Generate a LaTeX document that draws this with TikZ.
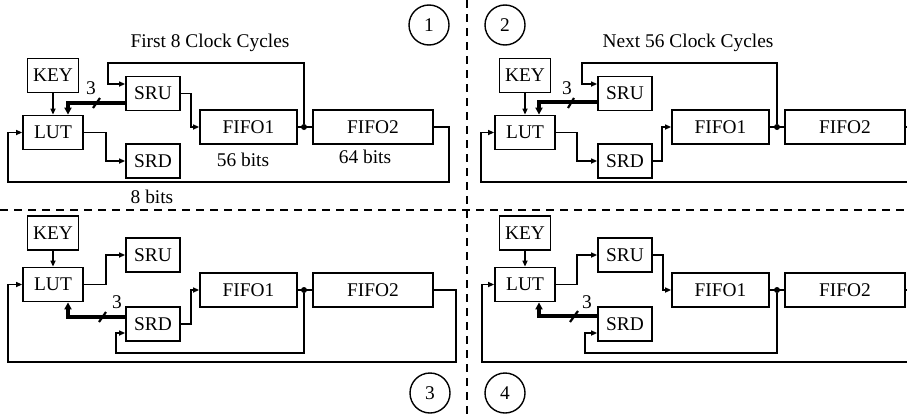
\documentclass[tikz,border=0pt]{standalone}
\usepackage{fontspec}
\setmainfont{Liberation Serif}
\usetikzlibrary{arrows.meta,positioning}

\begin{document}
\begin{tikzpicture}[
    x=1pt, y=-1pt,
    font=\fontsize{19.4}{21}\selectfont,
    blk/.style={draw,line width=1.8pt,minimum width=#1,minimum height=34pt,inner sep=0pt},
    conn/.style={-{Triangle[length=6pt,width=5pt]},line width=1.5pt},
    wire/.style={line width=1.5pt},
    bus/.style={-{Triangle[length=7pt,width=7pt]},line width=3.2pt},
    tick/.style={line width=2.2pt},
    jn/.style={circle,fill,inner sep=0pt,minimum size=6pt},
    num/.style={circle,draw,line width=1.4pt,minimum size=40pt,inner sep=0pt},
    sep/.style={line width=1.5pt,dash pattern=on 8pt off 6pt},
  ]
\useasboundingbox (0,0) rectangle (907,415);
\clip (0,0) rectangle (907,415);

% ======================= PANEL 1: first 8 cycles =======================
\begin{scope}
  \node[blk=51pt] (key) at (53,75.5) {KEY};
  \node[blk=60pt] (lut) at (53,132.5) {LUT};
  \node[blk=54pt] (sru) at (153,93.5) {SRU};
  \node[blk=54pt] (srd) at (153,161) {SRD};
  \node[blk=97pt] (fifo1) at (248.5,127) {FIFO1};
  \node[blk=120pt] (fifo2) at (373,127) {FIFO2};
  \node[jn] (j) at (304,127) {};

  \draw[conn] (key) -- (lut);
  \draw[conn] (lut.east) -- ++(22,0) |- (srd.west);
  \draw[conn] (sru.east) -- ++(10,0) |- (fifo1.west);
  \draw[wire] (fifo1.east) -- (fifo2.west);
  % feedback into SRU
  \draw[conn] (j) |- (108,63) |- ([yshift=9.5pt]sru.west);
  % 3-bit bus back to LUT
  \draw[bus] ([yshift=-9.5pt]sru.west) -| ([xshift=15pt]lut.north);
  \draw[tick] (93,108) -- (100,98);
  \node at (91,88) {3};
  % long loop FIFO2 -> LUT
  \draw[conn] (fifo2.east) -- ++(15,0) |- (8,182) |- (lut.west);

  \node at (243,160) {56 bits};
  \node at (365,157) {64 bits};
  \node at (152,197) {8 bits};
  \node at (210,43) {First 8 Clock Cycles};
  \node[num] (c1) at (429,25) {1};
\end{scope}

% ======================= PANEL 2: next 56 cycles =======================
\begin{scope}[xshift=472pt]
  \node[blk=51pt] (bkey) at (53,75.5) {KEY};
  \node[blk=60pt] (blut) at (53,132.5) {LUT};
  \node[blk=54pt] (bsru) at (153,93.5) {SRU};
  \node[blk=54pt] (bsrd) at (153,161) {SRD};
  \node[blk=97pt] (bfifo1) at (248.5,127) {FIFO1};
  \node[blk=120pt] (bfifo2) at (373,127) {FIFO2};
  \node[jn] (bj) at (305,127) {};

  \draw[conn] (bkey) -- (blut);
  \draw[conn] (blut.east) -- ++(21,0) |- (bsrd.west);
  \draw[conn] (bsrd.east) -- ++(9,0) |- (bfifo1.west);
  \draw[wire] (bfifo1.east) -- (bfifo2.west);
  \draw[conn] (bj) |- (110,63) |- ([yshift=9.5pt]bsru.west);
  \draw[bus] ([yshift=-8.5pt]bsru.west) -| ([xshift=14pt]blut.north);
  \draw[tick] (96,108) -- (102,98);
  \node at (95,88) {3};
  \draw[conn] (bfifo2.east) -- ++(15,0) |- (9,182) |- (blut.west);

  \node at (216,43) {Next 56 Clock Cycles};
  \node[num] (c2) at (33,25) {2};
\end{scope}

% ======================= PANEL 3 =======================
\begin{scope}
  \node[blk=51pt] (ckey) at (53,233) {KEY};
  \node[blk=60pt] (clut) at (53,284.5) {LUT};
  \node[blk=54pt] (csru) at (153,255) {SRU};
  \node[blk=54pt] (csrd) at (153,324) {SRD};
  \node[blk=97pt] (cfifo1) at (248.5,290) {FIFO1};
  \node[blk=120pt] (cfifo2) at (373,290) {FIFO2};
  \node[jn] (cj) at (304,290) {};

  \draw[conn] (ckey) -- (clut);
  \draw[conn] (clut.east) -- ++(22,0) |- (csru.west);
  \draw[conn] (csrd.east) -- ++(10,0) |- (cfifo1.west);
  \draw[wire] (cfifo1.east) -- (cfifo2.west);
  % feedback into SRD
  \draw[conn] (cj) |- (116,353) |- ([yshift=-9pt]csrd.west);
  \draw[bus] ([yshift=7pt]csrd.west) -| ([xshift=15pt]clut.south);
  \draw[tick] (99,322) -- (106,312);
  \node at (117,302) {3};
  \draw[conn] (cfifo2.east) -- ++(22,0) |- (8,362) |- (clut.west);

  \node[num] (c3) at (430,393) {3};
\end{scope}

% ======================= PANEL 4 =======================
\begin{scope}[xshift=472pt]
  \node[blk=51pt] (dkey) at (53,233) {KEY};
  \node[blk=60pt] (dlut) at (53,284.5) {LUT};
  \node[blk=54pt] (dsru) at (153,255) {SRU};
  \node[blk=54pt] (dsrd) at (153,324) {SRD};
  \node[blk=97pt] (dfifo1) at (248.5,290) {FIFO1};
  \node[blk=120pt] (dfifo2) at (373,290) {FIFO2};
  \node[jn] (dj) at (305,290) {};

  \draw[conn] (dkey) -- (dlut);
  \draw[conn] (dlut.east) -- ++(21,0) |- (dsru.west);
  \draw[conn] (dsru.east) -- ++(10,0) |- (dfifo1.west);
  \draw[wire] (dfifo1.east) -- (dfifo2.west);
  \draw[conn] (dj) |- (113,353) |- ([yshift=-9pt]dsrd.west);
  \draw[bus] ([yshift=8pt]dsrd.west) -| ([xshift=14pt]dlut.south);
  \draw[tick] (98,322) -- (106,311);
  \node at (115,302) {3};
  \draw[conn] (dfifo2.east) -- ++(22,0) |- (10,362) |- (dlut.west);

  \node[num] (c4) at (33,393) {4};
\end{scope}

% separators
\draw[sep] (467,0) -- (467,415);
\draw[sep] (0,210) -- (907,210);

\end{tikzpicture}
\end{document}
